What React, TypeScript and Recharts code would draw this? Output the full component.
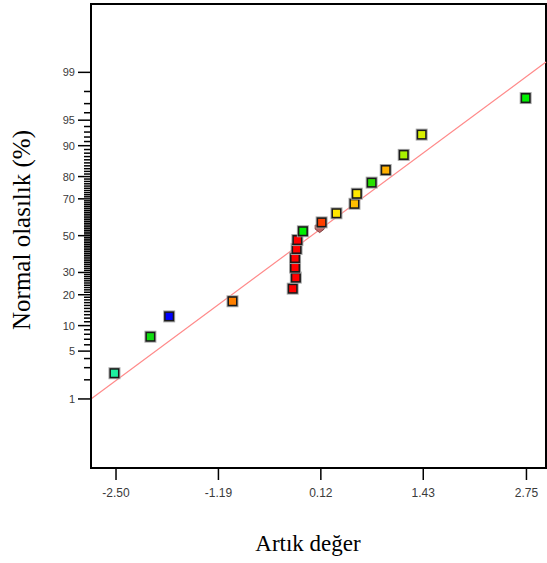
import { ComposedChart, Scatter, XAxis, YAxis, ReferenceLine, ReferenceArea } from 'recharts'

// residuals (x) and normal probability in % (y)
const residuals = [-2.52, -2.06, -1.82, -1.01, -0.24, -0.2, -0.21, -0.21, -0.19, -0.18, -0.11, 0.13, 0.32, 0.55, 0.58, 0.77, 0.95, 1.18, 1.41, 2.74]
const probabilities = [2.5, 7.5, 12.5, 17.5, 22.5, 27.5, 32.5, 37.5, 42.5, 47.5, 52.5, 57.5, 62.5, 67.5, 72.5, 77.5, 82.5, 87.5, 92.5, 97.5]
const pointColors = [
  '#1ef0a0', '#10dc10', '#0000ff', '#ff8000', '#ff0000', '#ff0000', '#ff0000', '#ff0000', '#ff0000', '#ff0000',
  '#00f000', '#ff4000', '#ffe600', '#ffbe00', '#ffe800', '#28e000', '#ffb000', '#a8f000', '#d8f000', '#00f000',
]

// extra marker sitting on the line
const markerResidual = [0.105]
const markerProbability = [54]

// reference line ends
const lineResidual = [-2.82, 3.0]
const lineProbability = [1, 99.33]

const xDomain: [number, number] = [-2.82, 3.0]
const zDomain: [number, number] = [-3.31, 3.3]
const xTicks = [-2.5, -1.19, 0.12, 1.43, 2.75]
const majorPct = [1, 5, 10, 20, 30, 50, 70, 80, 90, 95, 99]
const allPct = Array.from({ length: 99 }, (_, i) => i + 1)

const SANS = '"Liberation Sans", Arial, sans-serif'
const SERIF = '"Liberation Serif", "Times New Roman", serif'

// inverse normal cdf (Acklam)
function probit(p: number): number {
  const a = [-39.6968302866538, 220.946098424521, -275.928510446969, 138.357751867269, -30.6647980661472, 2.50662827745924]
  const b = [-54.4760987982241, 161.585836858041, -155.698979859887, 66.8013118877197, -13.2806815528857]
  const c = [-0.00778489400243029, -0.322396458041136, -2.40075827716184, -2.54973253934373, 4.37466414146497, 2.93816398269878]
  const d = [0.00778469570904146, 0.32246712907004, 2.445134137143, 3.75440866190742]
  const pl = 0.02425
  if (p < pl) {
    const q = Math.sqrt(-2 * Math.log(p))
    return (((((c[0] * q + c[1]) * q + c[2]) * q + c[3]) * q + c[4]) * q + c[5]) / ((((d[0] * q + d[1]) * q + d[2]) * q + d[3]) * q + 1)
  }
  if (p > 1 - pl) {
    const q = Math.sqrt(-2 * Math.log(1 - p))
    return -(((((c[0] * q + c[1]) * q + c[2]) * q + c[3]) * q + c[4]) * q + c[5]) / ((((d[0] * q + d[1]) * q + d[2]) * q + d[3]) * q + 1)
  }
  const q = p - 0.5
  const r = q * q
  return (((((a[0] * r + a[1]) * r + a[2]) * r + a[3]) * r + a[4]) * r + a[5]) * q / (((((b[0] * r + b[1]) * r + b[2]) * r + b[3]) * r + b[4]) * r + 1)
}

const points = residuals.map((x, i) => ({ x, z: probit(probabilities[i] / 100), color: pointColors[i] }))
const marker = markerResidual.map((x, i) => ({ x, z: probit(markerProbability[i] / 100) }))
const yTicks = allPct.map(p => probit(p / 100))
const zToPct = new Map(allPct.map(p => [probit(p / 100).toFixed(6), p]))

function SquareDot(props: any) {
  const { cx, cy, payload } = props
  if (cx == null || cy == null) return null
  return (
    <g>
      <rect x={cx - 5.5} y={cy - 5.5} width={11} height={11} fill="none" stroke="#aaa" strokeWidth={1} />
      <rect x={cx - 4.3} y={cy - 4.3} width={8.6} height={8.6} fill={payload.color} stroke="#1a1a1a" strokeWidth={1.6} />
    </g>
  )
}

function MarkerDot(props: any) {
  const { cx, cy } = props
  if (cx == null || cy == null) return null
  return (
    <path
      d={`M${cx - 4.5},${cy - 3.5} L${cx + 4.5},${cy - 3.5} L${cx + 4.5},${cy + 0.5} L${cx},${cy + 4} L${cx - 4.5},${cy + 0.5} Z`}
      fill="#c06464" stroke="#7a3c3c" strokeWidth={1}
    />
  )
}

function YTick(props: any) {
  const { x, y, payload } = props
  const pct = zToPct.get(Number(payload.value).toFixed(6)) ?? 0
  const major = majorPct.includes(pct)
  return (
    <g>
      <line x1={x - (major ? 13 : 7)} x2={x} y1={y} y2={y} stroke="#000" strokeWidth={1.5} />
      {major && (
        <text x={x - 16} y={y} dy={4} textAnchor="end" fontFamily={SANS} fontSize={11} fill="#3a3a3a">
          {pct}
        </text>
      )}
    </g>
  )
}

function XTick(props: any) {
  const { x, y, payload } = props
  return (
    <g>
      <line x1={x} x2={x} y1={y} y2={y + 12} stroke="#000" strokeWidth={1.5} />
      <text x={x} y={y + 29} textAnchor="middle" fontFamily={SANS} fontSize={12} fill="#3a3a3a">
        {Number(payload.value).toFixed(2)}
      </text>
    </g>
  )
}

export default function App() {
  const axisLine = { stroke: '#000', strokeWidth: 2 }
  return (
    <div style={{ position: 'absolute', left: 0, top: 0, width: 547, height: 563, background: '#fff' }}>
      <ComposedChart width={547} height={563} margin={{ top: 4, right: 1, bottom: 0, left: 0 }}>
        <XAxis
          type="number" dataKey="x" domain={xDomain} allowDataOverflow
          ticks={xTicks} interval={0} height={95} axisLine={axisLine}
          tickLine={false} tickSize={0} tickMargin={0} tick={<XTick />}
        />
        <YAxis
          type="number" dataKey="z" domain={zDomain} allowDataOverflow
          ticks={yTicks} interval={0} width={91} axisLine={axisLine}
          tickLine={false} tickSize={0} tickMargin={0} tick={<YTick />}
        />
        <ReferenceArea
          x1={xDomain[0]} x2={xDomain[1]} y1={zDomain[0]} y2={zDomain[1]}
          fill="none" fillOpacity={0} stroke="#000" strokeWidth={2}
        />
        <ReferenceLine
          segment={[
            { x: lineResidual[0], y: probit(lineProbability[0] / 100) },
            { x: lineResidual[1], y: probit(lineProbability[1] / 100) },
          ]}
          stroke="#ff8a8a" strokeWidth={1.2}
        />
        <Scatter data={marker} shape={<MarkerDot />} isAnimationActive={false} />
        <Scatter data={points} shape={<SquareDot />} isAnimationActive={false} />
      </ComposedChart>
      <svg width={547} height={563} style={{ position: 'absolute', left: 0, top: 0, pointerEvents: 'none' }}>
        <text transform="translate(30,230) rotate(-90)" textAnchor="middle" fontFamily={SERIF} fontSize={25} fill="#000">
          Normal olasılık (%)
        </text>
        <text x={308} y={551} textAnchor="middle" fontFamily={SERIF} fontSize={23} fill="#000">
          Artık değer
        </text>
      </svg>
    </div>
  )
}
